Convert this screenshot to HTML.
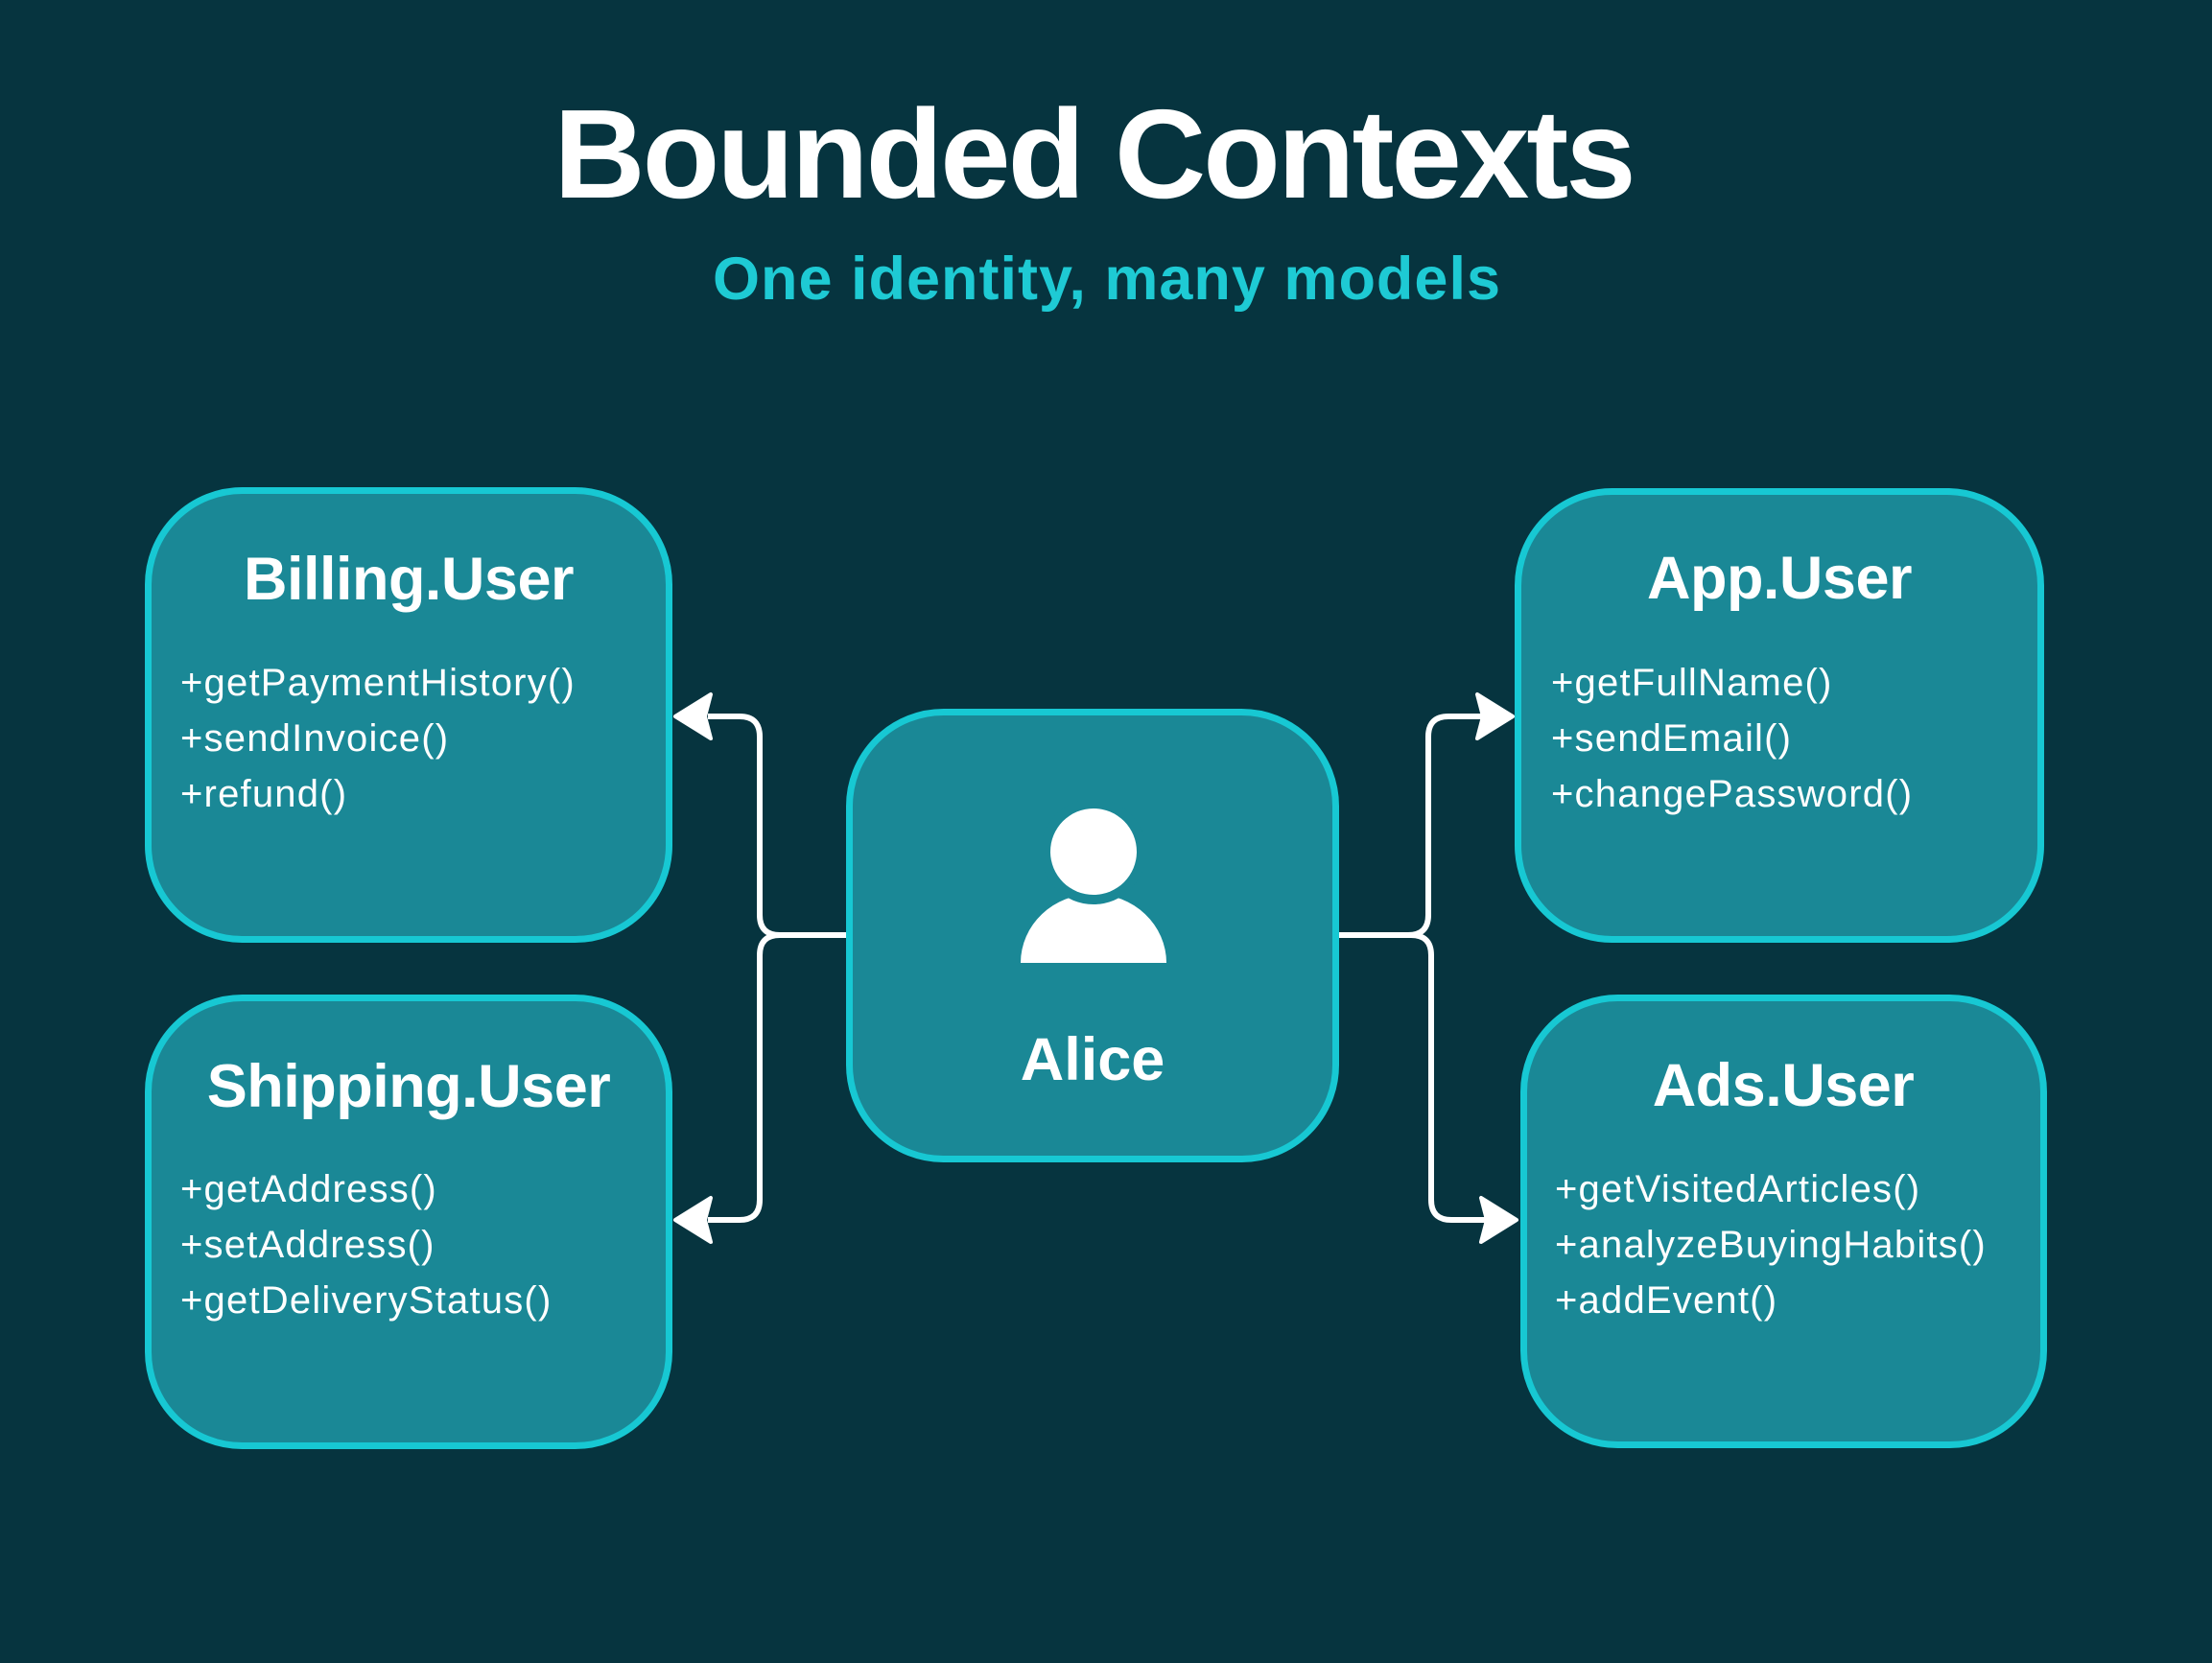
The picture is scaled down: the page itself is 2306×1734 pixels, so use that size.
<!DOCTYPE html>
<html>
<head>
<meta charset="utf-8">
<style>
  html, body { margin: 0; padding: 0; background: #06343f; }
  body { width: 2306px; height: 1734px; overflow: hidden; }
  svg { display: block; }
  text { font-family: "Liberation Sans", "DejaVu Sans", sans-serif; }
  .ttl { font-weight: bold; font-size: 63px; fill: #ffffff; letter-spacing: -0.5px; }
  .m { font-size: 40px; fill: #ffffff; letter-spacing: 1.2px; }
</style>
</head>
<body>
<svg width="2306" height="1734" viewBox="0 0 2306 1734" xmlns="http://www.w3.org/2000/svg">
  <rect x="0" y="0" width="2306" height="1734" fill="#06343f"/>

  <!-- Title -->
  <text x="1140" y="206" text-anchor="middle" font-weight="bold" font-size="132" fill="#ffffff" letter-spacing="-3">Bounded Contexts</text>
  <text x="1154" y="312" text-anchor="middle" font-weight="bold" font-size="63" fill="#1ecad4" letter-spacing="1">One identity, many models</text>

  <!-- Connectors -->
  <g fill="none" stroke="#ffffff" stroke-width="6" stroke-linecap="butt" stroke-linejoin="round">
    <!-- left top -->
    <path d="M 884 975 H 813 Q 792 975 792 954 V 768 Q 792 747 771 747 H 738"/>
    <!-- left bottom -->
    <path d="M 884 975 H 813 Q 792 975 792 996 V 1251 Q 792 1272 771 1272 H 738"/>
    <!-- right top -->
    <path d="M 1394 975 H 1468 Q 1489 975 1489 954 V 768 Q 1489 747 1510 747 H 1545"/>
    <!-- right bottom -->
    <path d="M 1394 975 H 1471 Q 1492 975 1492 996 V 1251 Q 1492 1272 1513 1272 H 1548"/>
  </g>

  <!-- Arrowheads -->
  <g fill="#ffffff" stroke="#ffffff" stroke-width="4" stroke-linejoin="round">
    <path d="M 704 747 L 741 724 L 735 747 L 741 770 Z"/>
    <path d="M 704 1272 L 741 1249 L 735 1272 L 741 1295 Z"/>
    <path d="M 1577 747 L 1540 724 L 1546 747 L 1540 770 Z"/>
    <path d="M 1581 1272 L 1544 1249 L 1550 1272 L 1544 1295 Z"/>
  </g>

  <!-- Boxes -->
  <g fill="#1a8896" stroke="#17c8d3" stroke-width="7">
    <rect x="154.5" y="511.5" width="543" height="468" rx="98" ry="98"/>
    <rect x="154.5" y="1040.5" width="543" height="467" rx="98" ry="98"/>
    <rect x="1582.5" y="512.5" width="545" height="467" rx="98" ry="98"/>
    <rect x="1588.5" y="1040.5" width="542" height="466" rx="98" ry="98"/>
    <rect x="885.5" y="742.5" width="507" height="466" rx="98" ry="98"/>
  </g>

  <!-- Person icon -->
  <path d="M 1064 1004 A 76 72 0 0 1 1216 1004 Z" fill="#ffffff"/>
  <circle cx="1140" cy="888" r="55" fill="#1a8896"/>
  <circle cx="1140" cy="888" r="45" fill="#ffffff"/>
  <text x="1139" y="1126" text-anchor="middle" font-weight="bold" font-size="63" fill="#ffffff">Alice</text>

  <!-- Billing.User -->
  <text class="ttl" x="426" y="625" text-anchor="middle">Billing.User</text>
  <text class="m" x="188" y="725">+getPaymentHistory()</text>
  <text class="m" x="188" y="783">+sendInvoice()</text>
  <text class="m" x="188" y="841">+refund()</text>

  <!-- Shipping.User -->
  <text class="ttl" x="426" y="1154" text-anchor="middle">Shipping.User</text>
  <text class="m" x="188" y="1253">+getAddress()</text>
  <text class="m" x="188" y="1311">+setAddress()</text>
  <text class="m" x="188" y="1369">+getDeliveryStatus()</text>

  <!-- App.User -->
  <text class="ttl" x="1855" y="624" text-anchor="middle">App.User</text>
  <text class="m" x="1617" y="725">+getFullName()</text>
  <text class="m" x="1617" y="783">+sendEmail()</text>
  <text class="m" x="1617" y="841">+changePassword()</text>

  <!-- Ads.User -->
  <text class="ttl" x="1859" y="1153" text-anchor="middle">Ads.User</text>
  <text class="m" x="1621" y="1253">+getVisitedArticles()</text>
  <text class="m" x="1621" y="1311">+analyzeBuyingHabits()</text>
  <text class="m" x="1621" y="1369">+addEvent()</text>
</svg>
</body>
</html>
